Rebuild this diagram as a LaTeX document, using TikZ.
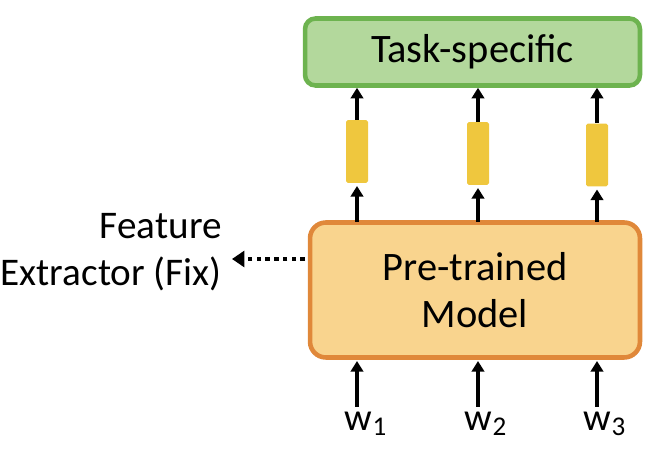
\documentclass[tikz,border=0pt]{standalone}
\usepackage{fontspec}
\setmainfont{Carlito}
\usetikzlibrary{arrows.meta}
\definecolor{greenfill}{HTML}{B3D89C}
\definecolor{greenedge}{HTML}{6DB34F}
\definecolor{orangefill}{HTML}{F9D48E}
\definecolor{orangeedge}{HTML}{E0883A}
\definecolor{barfill}{HTML}{EFC73E}
\tikzset{
  taskbox/.style={draw=greenedge, line width=2.6pt, fill=greenfill, rounded corners=6pt, inner sep=0pt},
  modelbox/.style={draw=orangeedge, line width=2.6pt, fill=orangefill, rounded corners=9pt, inner sep=0pt},
  bar/.style={fill=barfill, draw=none, rounded corners=1pt, minimum width=0.44cm, minimum height=1.26cm, inner sep=0pt},
  arr/.style={-{Triangle[length=6pt,width=7pt]}, line width=2.1pt},
  dotarr/.style={-{Triangle[length=7pt,width=9pt]}, line width=2.6pt, dash pattern=on 2.6pt off 2.4pt},
  lbl/.style={font=\fontsize{23}{27}\selectfont, align=center, inner sep=0pt},
  felbl/.style={font=\fontsize{22.3}{26.5}\selectfont, align=right, inner sep=0pt},
  wlbl/.style={font=\fontsize{22}{24}\selectfont, inner sep=0pt}
}
\begin{document}
\begin{tikzpicture}[x=0.02cm, y=-0.02cm]
\useasboundingbox (0,0) rectangle (656,455);
% task-specific box
\node[taskbox, minimum width=6.7cm, minimum height=1.34cm] (task) at (472.5,52) {};
\node[lbl] (tasktext) at (task.center) {Task-specific};
% model box
\node[modelbox, minimum width=6.6cm, minimum height=2.7cm] (model) at (475,290) {};
\node[lbl] (modeltext) at ([yshift=0pt]model.center) {Pre-trained\\Model};
% bars
\node[bar] (b1) at (357,151.5) {};
\node[bar] (b2) at (478,153.5) {};
\node[bar] (b3) at (597,155) {};
% arrows bars -> task
\draw[arr] (b1.north) -- (b1.north |- task.south);
\draw[arr] (b2.north) -- (b2.north |- task.south);
\draw[arr] (b3.north) -- (b3.north |- task.south);
% model -> bars
\coordinate (m1) at (357,222);
\coordinate (m2) at (478,222);
\coordinate (m3) at (597,222);
\draw[arr] (m1) -- ([yshift=-1.5pt]b1.south);
\draw[arr] (m2) -- ([yshift=-1.5pt]b2.south);
\draw[arr] (m3) -- ([yshift=-1.5pt]b3.south);
% inputs
\coordinate (i1) at (357,407);
\coordinate (i2) at (478,407);
\coordinate (i3) at (597,407);
\draw[arr] (i1) -- (357,361);
\draw[arr] (i2) -- (478,361);
\draw[arr] (i3) -- (597,361);
\node[wlbl] (w1) at (366,424) {w\textsubscript{1}};
\node[wlbl] (w2) at (486,424) {w\textsubscript{2}};
\node[wlbl] (w3) at (605,424) {w\textsubscript{3}};
% feature extractor
\node[felbl, anchor=east] (fe) at (222,252) {Feature\\Extractor (Fix)};
\coordinate (fs) at (305,259);
\draw[dotarr] (fs) -- (232,259);
\end{tikzpicture}
\end{document}
